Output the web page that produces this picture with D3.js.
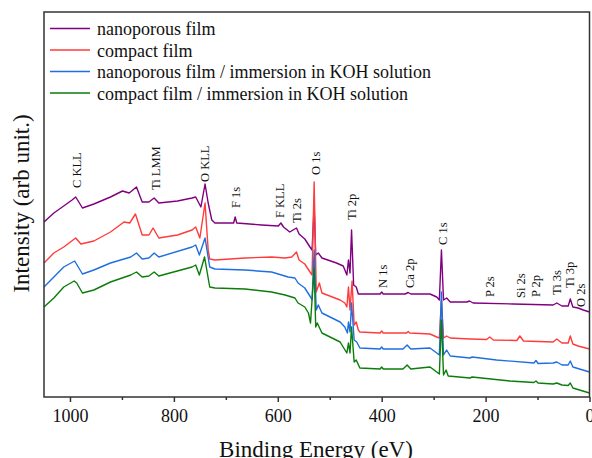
<!DOCTYPE html>
<html><head><meta charset="utf-8">
<script src="https://cdn.jsdelivr.net/npm/d3@7"></script>
<style>body{margin:0;background:#fff}svg text{font-family:"Liberation Serif","Times New Roman",serif;fill:#111}</style>
</head><body><svg id="c" width="592" height="458"></svg>
<script>
const seriesNames = ["nanoporous film", "compact film", "nanoporous film / immersion in KOH solution", "compact film / immersion in KOH solution"];
const seriesColors = ["#800080", "#ff3b3b", "#1f6fe0", "#0a7d0a"];
const majorTicks = [1000, 800, 600, 400, 200, 0];
const minorTicks = [900, 700, 500, 300, 100];

// [binding energy (eV), intensity (arb. unit)]
const nanoporous = [[1050,175],[1031,184],[1012,191],[996,197],[989,200],[983,195],[976,189],[954,193],[922,200],[899,206],[886,204],[872,210],[861,195],[848,195],[838,199],[829,194],[793,196],[765,199],[758,200],[748,190],[740,213],[734,194],[727,177],[721,174],[689,174],[685,174],[682,180],[679,174],[631,172],[599,171],[594,174],[589,170],[577,165],[564,169],[559,163],[548,158],[538,150],[534,147],[530,192],[527,142],[522,144],[515,139],[487,134],[474,131],[467,122],[464,137],[461,124],[458,167],[454,112],[449,110],[445,103],[403,103],[400,105],[397,103],[355,103],[349,104.5],[344,103],[307,103],[294,100],[289,97],[285,147],[281,97],[275,99],[268,95],[236,95],[231,96],[224,94],[147,93],[70,92],[63,94],[53,91],[41,91],[37,98],[32,90],[22,89],[12,87],[0,85]];
const compact = [[1050,134],[1031,144],[1012,150],[989,159],[979,153],[954,156],[922,165],[896,175],[885,174],[874,183],[861,162],[848,162],[840,169],[829,159],[793,162],[765,167],[758,170],[750,159],[740,194],[734,147],[731,138],[721,137],[663,139],[612,140],[586,139],[573,140],[564,145],[559,137],[548,133],[538,125],[534,122],[530,215],[526,105],[520,114],[515,104],[480,97],[471,94],[467,90],[464,110],[461,87],[457,116],[453,72],[449,75],[445,67],[442,65],[403,64],[400,66],[397,64],[352,64],[349,65.5],[346,64],[307,63],[294,60],[289,59],[285,97],[281,59],[275,61],[268,59],[230,58],[198,57.5],[192,60],[185,57],[140,56.5],[134,61],[127,56],[70,55],[63,58],[53,54],[41,54],[37,61],[32,53],[22,51],[0,48]];
const nanoporousKOH = [[1050,110],[1031,120],[1012,130],[991,136],[976,123],[954,127],[922,134],[883,140],[872,144],[861,138],[848,139],[838,144],[829,140],[765,150],[758,152],[751,142],[740,159],[731,130],[721,128],[663,127],[612,125],[580,120],[567,119],[561,114],[548,109],[537,100],[534,97],[530,147],[526,87],[522,92],[515,84],[480,75],[471,70],[466,64],[464,75],[461,65],[458,94],[453,57],[448,55],[442,49],[403,48],[400,50],[397,48],[359,48],[351,52],[344,48],[307,49],[294,44],[289,42],[285,105],[281,42],[275,47],[268,41],[230,39],[226,40],[179,37],[107,34],[103,36.5],[99,33.5],[70,34],[63,35],[53,32],[41,32],[37,36],[32,30],[0,25]];
const compactKOH = [[1050,90],[1031,99],[1012,110],[992,116],[987,114],[976,104],[954,107],[922,115],[883,122],[872,125],[861,120],[848,121],[838,125],[829,121],[765,130],[758,132],[751,122],[741,140],[731,110],[721,109],[663,108],[612,105],[586,102],[567,99],[561,94],[548,90],[541,84],[537,74],[530,129],[527,70],[524,74],[515,64],[480,55],[473,49],[467,44],[464,54],[461,44],[458,70],[453,35],[449,37],[442,29],[403,28],[400,30],[397,28],[359,28],[351,32],[344,28],[307,30],[294,25],[289,23],[285,77],[281,22],[276,27],[272,21],[230,19],[226,20],[153,16],[107,14.5],[103,16],[99,14],[70,13],[63,14],[53,12],[41,11.5],[37,14],[32,9],[0,4]];

const peakNames = ["C KLL","Ti LMM","O KLL","F 1s","F KLL","Ti 2s","O 1s","Ti 2p","N 1s","Ca 2p","C 1s","P 2s","Si 2s","P 2p","Ti 3s","Ti 3p","O 2s"];
const peakEnergies = [987,836,740,682,596,564,528,458,398,347,283,192,132,103,63,39,18];
const peakLabelLevels = [209,207,215,189,179,174,222,177,109,109,152,100,99,100,102,109,90];

const allSeries = [nanoporous, compact, nanoporousKOH, compactKOH];

const svg = d3.select('#c');
const L = 44, R = 589.5, T = 12, B = 397;
const x = d3.scaleLinear().domain([1050, 0]).range([L, R]);
const y = d3.scaleLinear().domain([0, 385]).range([B, T]);

const line = d3.line().x(d => x(d[0])).y(d => y(d[1]));

svg.append('clipPath').attr('id','pc').append('rect')
  .attr('x', L).attr('y', T).attr('width', R - L).attr('height', B - T);

const g = svg.append('g').attr('clip-path','url(#pc)');
allSeries.forEach((s, i) => {
  g.append('path').datum(s).attr('d', line)
    .attr('fill','none').attr('stroke', seriesColors[i]).attr('stroke-width', 1.4)
    .attr('stroke-linejoin','round');
});

// frame
svg.append('rect').attr('x', L).attr('y', T).attr('width', R - L).attr('height', B - T)
  .attr('fill','none').attr('stroke','#333').attr('stroke-width',1.5);

// x axis
const xAxis = d3.axisBottom(x).tickValues(majorTicks).tickSize(5).tickPadding(7).tickFormat(d3.format('d'));
const ax = svg.append('g').attr('transform', `translate(0,${B})`).call(xAxis);
ax.select('.domain').remove();
ax.selectAll('line').attr('stroke','#333').attr('stroke-width',1.5);
ax.selectAll('text').attr('font-size', 18).attr('fill','#111')
  .style('font-family','"Liberation Serif", serif');
const axm = svg.append('g').attr('transform', `translate(0,${B})`)
  .call(d3.axisBottom(x).tickValues(minorTicks).tickSize(3).tickFormat(''));
axm.select('.domain').remove();
axm.selectAll('line').attr('stroke','#333').attr('stroke-width',1.5);

// axis titles
svg.append('text').attr('x', 316).attr('y', 457).attr('text-anchor','middle')
  .attr('font-size', 23).text('Binding Energy (eV)');
svg.append('text').attr('transform','translate(28.5,203.5) rotate(-90)')
  .attr('text-anchor','middle').attr('font-size', 23).text('Intensity (arb unit.)');

// peak labels
peakNames.forEach((n, i) => {
  svg.append('text')
    .attr('transform', `translate(${x(peakEnergies[i])},${y(peakLabelLevels[i])}) rotate(-90)`)
    .attr('dy','0.35em').attr('font-size', 12.5).text(n);
});

// legend
seriesNames.forEach((n, i) => {
  const ly = 28.5 + i * 21.5;
  svg.append('line').attr('x1', 50).attr('x2', 90).attr('y1', ly).attr('y2', ly)
    .attr('stroke', seriesColors[i]).attr('stroke-width', 1.5);
  svg.append('text').attr('x', 97).attr('y', ly + 6.5).attr('font-size', 18).text(n);
});
</script></body></html>
